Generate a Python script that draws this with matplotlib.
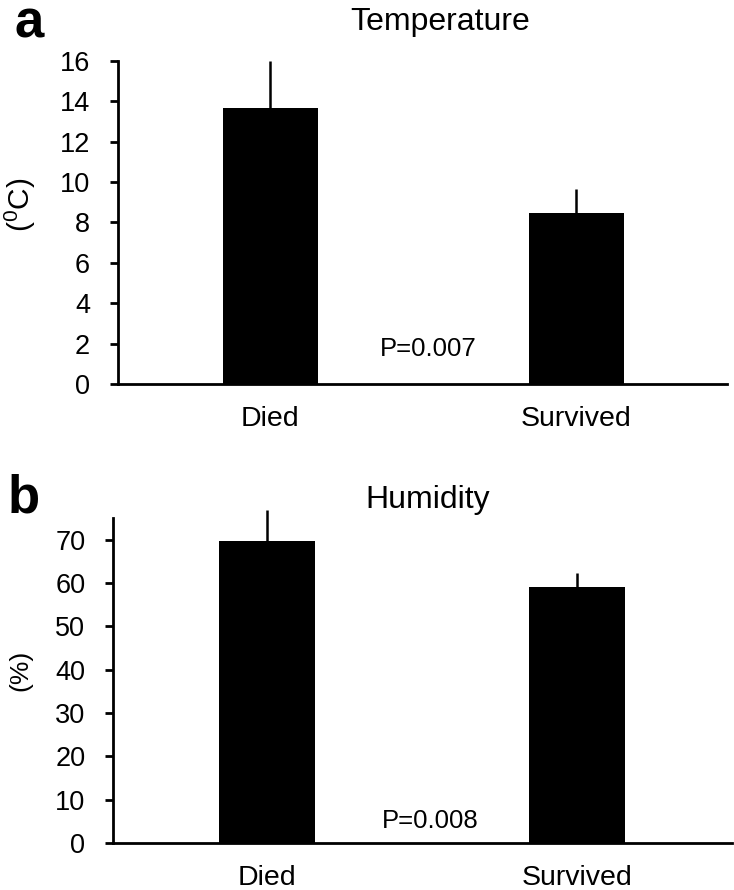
import matplotlib
matplotlib.use('Agg')
import matplotlib.pyplot as plt

plt.rcParams['font.family'] = ['Liberation Sans', 'DejaVu Sans']
plt.rcParams['mathtext.fontset'] = 'custom'
plt.rcParams['mathtext.rm'] = 'Liberation Sans'

# data
groups = ['Died', 'Survived']
temp_mean = [13.67, 8.47]
temp_err = [2.33, 1.19]
hum_mean = [69.7, 59.1]
hum_err = [7.1, 3.1]

fig = plt.figure(figsize=(7.34, 8.90), dpi=100)

ax1 = fig.add_axes([0.1608, 0.5685, 0.8297, 0.3633])
ax2 = fig.add_axes([0.1540, 0.0528, 0.8433, 0.3652])


def draw(ax, means, errs, ymax, yticks, ylabel, lab_x, lab_y, lab_size,
         ptext, px, py, xlim):
    x = list(range(len(groups)))
    ax.bar(x, means, width=0.31, color='black', zorder=2)
    eb = ax.errorbar(x, means, yerr=[[0] * len(errs), errs], fmt='none',
                     ecolor='black', elinewidth=1.8, capsize=0, zorder=1)
    for coll in eb.lines[2]:
        coll.set_clip_on(False)
    ax.set_xlim(*xlim)
    ax.set_ylim(0, ymax)
    ax.set_yticks(yticks)
    ax.set_xticks(x)
    ax.set_xticklabels(groups)
    ax.spines['top'].set_visible(False)
    ax.spines['right'].set_visible(False)
    ax.spines['left'].set_linewidth(2)
    ax.spines['bottom'].set_linewidth(2)
    ax.tick_params(axis='y', direction='out', length=6, width=2, labelsize=19.5, pad=14)
    ax.tick_params(axis='x', length=0, labelsize=20.5, pad=16)
    ax.text(lab_x, lab_y, ylabel, transform=ax.transAxes, rotation=90,
            ha='center', va='center', fontsize=lab_size)
    ax.text(px, py, ptext, ha='center', va='baseline', fontsize=18.5)


draw(ax1, temp_mean, temp_err, 16, range(0, 17, 2), r'($^0$C)', -0.161, 0.554, 21.5,
     'P=0.007', 0.515, 1.4, (-0.498, 1.492))
draw(ax2, hum_mean, hum_err, 75, range(0, 71, 10), '(%)', -0.149, 0.532, 19,
     'P=0.008', 0.525, 3.45, (-0.498, 1.499))

# panel letters and titles
fig.text(0.020, 0.958, 'a', fontsize=38, fontweight='bold', ha='left', va='baseline')
fig.text(0.599, 0.966, 'Temperature', fontsize=23, ha='center', va='baseline')
fig.text(0.011, 0.4247, 'b', fontsize=38, fontweight='bold', ha='left', va='baseline')
fig.text(0.5825, 0.429, 'Humidity', fontsize=23, ha='center', va='baseline')

fig.savefig('out.png', dpi=100)
